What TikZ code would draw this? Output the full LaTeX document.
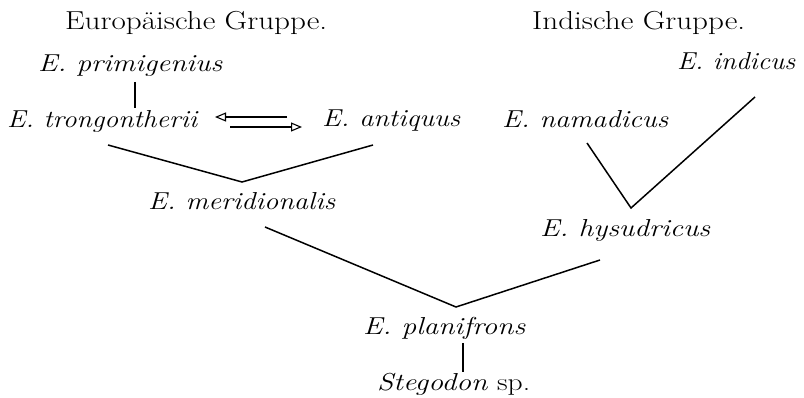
\documentclass[tikz,border=0pt]{standalone}
\usepackage{graphicx}
\usetikzlibrary{arrows.meta}
\newcommand{\fitw}[2]{\resizebox{#1pt}{\height}{#2}}
\begin{document}
\begin{tikzpicture}[x=1pt,y=-1pt,
  lbl/.style={anchor=base west,inner sep=0pt,font=\fontsize{24.5}{26}\selectfont\itshape},
  plain/.style={anchor=base west,inner sep=0pt,font=\fontsize{24.5}{26}\selectfont},
  hdr/.style={anchor=base west,inner sep=0pt,font=\fontsize{26}{28}\selectfont},
  edge/.style={line width=1.5pt,black},
  dbl/.style={line width=1.1pt,black}]
\useasboundingbox (0,0) rectangle (804,398);
\node[hdr] (eu) at (65,30) {\fitw{262}{Europäische Gruppe.}};
\node[hdr] (in) at (532,30) {\fitw{213}{Indische Gruppe.}};
\node[lbl] (prim) at (38,72) {\fitw{184}{E. primigenius}};
\node[lbl] (indi) at (677,70) {\fitw{118}{E. indicus}};
\node[lbl] (trong) at (7,128) {\fitw{190}{E. trongontherii}};
\node[lbl] (anti) at (322,127) {\fitw{138}{E. antiquus}};
\node[lbl] (nama) at (502,128) {\fitw{166}{E. namadicus}};
\node[lbl] (meri) at (148,210) {\fitw{187}{E. meridionalis}};
\node[lbl] (hysu) at (540,237) {\fitw{170}{E. hysudricus}};
\node[lbl] (plan) at (363,335) {\fitw{162}{E. planifrons}};
\node[plain] (steg) at (377,390) {\fitw{153}{\textit{Stegodon} sp.}};
% connection points
\coordinate (primB) at (135,82);
\coordinate (trongT) at (135,108);
\coordinate (trongB) at (108,145);
\coordinate (antiB) at (373,145);
\coordinate (meriT) at (242,182);
\coordinate (meriB) at (265,227);
\coordinate (planT) at (456,307);
\coordinate (hysuB) at (600,260);
\coordinate (hysuT) at (631,208);
\coordinate (namaB) at (587,143);
\coordinate (indiB) at (755,97);
\coordinate (planB) at (463,343);
\coordinate (stegT) at (463,372);
\coordinate (arUa) at (287,117);
\coordinate (arUb) at (215,117);
\coordinate (arLa) at (230,127);
\coordinate (arLb) at (302,127);
\draw[edge] (primB) -- (trongT);
\draw[edge] (trongB) -- (meriT) -- (antiB);
\draw[edge] (meriB) -- (planT) -- (hysuB);
\draw[edge] (namaB) -- (hysuT) -- (indiB);
\draw[edge] (planB) -- (stegT);
\draw[dbl,-{Triangle[open,length=11pt,width=9pt,line width=1.1pt]}] (arUa) -- (arUb);
\draw[dbl,-{Triangle[open,length=11pt,width=9pt,line width=1.1pt]}] (arLa) -- (arLb);
\end{tikzpicture}
\end{document}
